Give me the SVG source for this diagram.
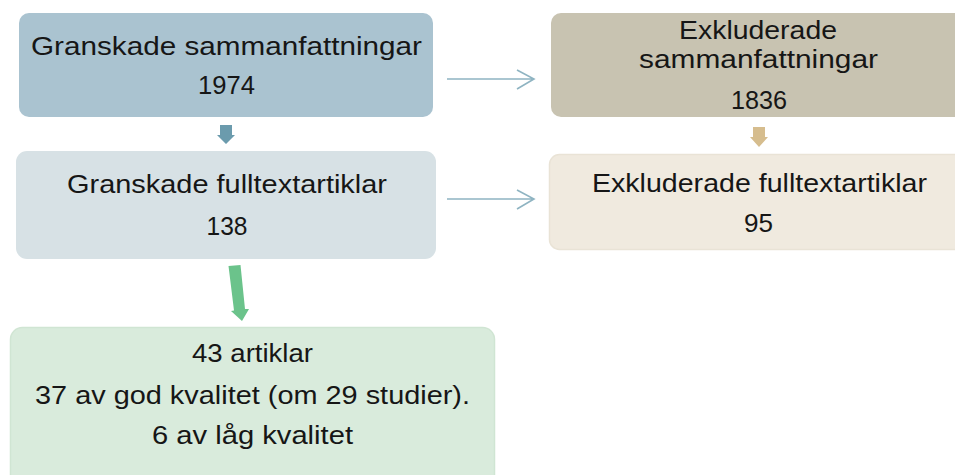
<svg xmlns="http://www.w3.org/2000/svg" width="955" height="475" viewBox="0 0 955 475">
<style>
text{font-family:"Liberation Sans","DejaVu Sans",Arial,sans-serif;font-size:25px;fill:#161616;text-anchor:middle}
.conn{stroke:#8fb4c2;stroke-width:1.6;fill:none}
</style>
<rect width="955" height="475" fill="#ffffff"/>
<g id="n1">
<rect x="19" y="13" width="414" height="104" rx="10" fill="#aac3d0"/>
<text x="226.5" y="55" textLength="391" lengthAdjust="spacingAndGlyphs">Granskade sammanfattningar</text>
<text x="226.5" y="94" textLength="57" lengthAdjust="spacingAndGlyphs">1974</text>
</g>
<g id="n2">
<rect x="16" y="151" width="420" height="108" rx="11" fill="#d7e1e5"/>
<text x="227" y="193" textLength="320" lengthAdjust="spacingAndGlyphs">Granskade fulltextartiklar</text>
<text x="227" y="235" textLength="41" lengthAdjust="spacingAndGlyphs">138</text>
</g>
<g id="n3">
<rect x="551" y="13" width="420" height="104" rx="10" fill="#c8c3b1"/>
<text x="758" y="39" textLength="158" lengthAdjust="spacingAndGlyphs">Exkluderade</text>
<text x="758.5" y="68" textLength="239" lengthAdjust="spacingAndGlyphs">sammanfattningar</text>
<text x="759" y="109" textLength="56" lengthAdjust="spacingAndGlyphs">1836</text>
</g>
<g id="n4">
<rect x="549.5" y="154.5" width="420" height="95" rx="10" fill="#f0eadf" stroke="#e9e3d6" stroke-width="1.5"/>
<text x="759.5" y="192" textLength="335" lengthAdjust="spacingAndGlyphs">Exkluderade fulltextartiklar</text>
<text x="758.5" y="232" textLength="29" lengthAdjust="spacingAndGlyphs">95</text>
</g>
<g id="n5">
<rect x="10.5" y="327.5" width="484" height="160" rx="12" fill="#d9ebdc" stroke="#d0e5d3" stroke-width="1.5"/>
<text x="252.5" y="362" textLength="121" lengthAdjust="spacingAndGlyphs">43 artiklar</text>
<text x="252.5" y="404" textLength="435" lengthAdjust="spacingAndGlyphs">37 av god kvalitet (om 29 studier).</text>
<text x="252.5" y="444" textLength="201" lengthAdjust="spacingAndGlyphs">6 av låg kvalitet</text>
</g>
<g id="connectors">
<path class="conn" d="M447 79H533M517 70L534 79L517 89"/>
<path class="conn" d="M447 199H533M517 190L534 199L517 209"/>
<polygon points="220,125 232,125 232,135 235,135 226,144 217,135 220,135" fill="#6b9bad"/>
<polygon points="753,127 765,127 765,137 768,137 759,147 750,137 753,137" fill="#d6bd8e"/>
<polygon points="228.5,266 240.5,265 245,309 249,309 242,321 231,311 234,310.5" fill="#6bc38b"/>
</g>
</svg>
